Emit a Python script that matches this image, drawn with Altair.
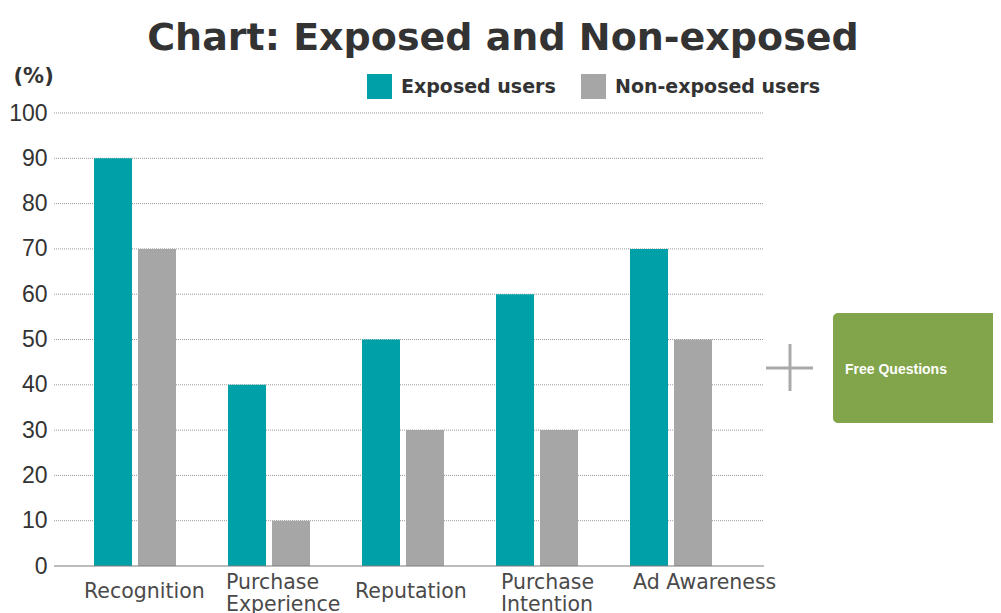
import altair as alt
import pandas as pd

categories = ["Recognition", "Purchase Experience", "Reputation", "Purchase Intention", "Ad Awareness"]
label_lines = [["Recognition"], ["Purchase", "Experience"], ["Reputation"],
               ["Purchase", "Intention"], ["Ad Awareness"]]
exposed = [90, 40, 50, 60, 70]
non_exposed = [70, 10, 30, 30, 50]
series = ["Exposed users", "Non-exposed users"]
colors = ["#00A0A8", "#A6A6A6"]
y_ticks = [0, 10, 20, 30, 40, 50, 60, 70, 80, 90, 100]
grid_values = [10, 20, 30, 40, 50, 60, 70, 80, 90, 100]

# label placement (axis styling): left-edge shift from band centre and gap below the axis
label_shift = [-51, -43, -48, -36, -38]
label_gap = [31, 22, 31, 22, 22]

rows = []
for c, e, n in zip(categories, exposed, non_exposed):
    rows.append({"category": c, "series": series[0], "value": e})
    rows.append({"category": c, "series": series[1], "value": n})
df = pd.DataFrame(rows)

def js_list(lines):
    return "[" + ",".join("'" + l + "'" for l in lines) + "]"

label_expr = ""
for c, lines in zip(categories, label_lines):
    label_expr += f"datum.label == '{c}' ? {js_list(lines)} : "
label_expr += "datum.label"

def per_label(vals):
    return {"condition": [{"test": f"datum.value == '{c}'", "value": v}
                          for c, v in zip(categories[1:], vals[1:])],
            "value": vals[0]}

FONT = "DejaVu Sans"
W, H = 710, 453
yscale = alt.Scale(domain=[0, 100], nice=False)

grid = alt.Chart(pd.DataFrame({"g": grid_values})).mark_rule(
    color="#999999", strokeWidth=1, strokeDash=[1, 1]).encode(
    y=alt.Y("g:Q", scale=yscale), x=alt.value(0), x2=alt.value(W))

bars = alt.Chart(df).mark_bar().encode(
    x=alt.X("category:N", sort=categories,
            scale=alt.Scale(range=[40, 658], paddingInner=0.388, paddingOuter=0),
            axis=alt.Axis(title=None, labelAngle=0, ticks=False, tickSize=0, domain=False,
                          labelExpr=label_expr, labelFont=FONT, labelFontSize=20.5,
                          labelColor="#4a4a4a", labelBaseline="alphabetic",
                          labelPadding=per_label(label_gap),
                          labelAlign="left", labelOffset=per_label(label_shift),
                          labelLineHeight=22, grid=False, labelLimit=300, labelOverlap=False)),
    xOffset=alt.XOffset("series:N", sort=series,
                        scale=alt.Scale(paddingInner=0.136, paddingOuter=0)),
    y=alt.Y("value:Q", scale=yscale,
            axis=alt.Axis(values=y_ticks, title="(%)", titleAngle=0, titleX=-41, titleY=-37,
                          titleAlign="left", titleBaseline="middle", titleFont=FONT,
                          titleFontSize=21, titleFontWeight="bold", titleColor="#333333",
                          labelFont="Liberation Sans", labelFontSize=23, labelColor="#333333",
                          labelPadding=7, ticks=False, tickSize=0, domain=False, grid=False)),
    color=alt.Color("series:N", sort=series,
                    scale=alt.Scale(domain=series, range=colors),
                    legend=alt.Legend(title=None, orient="none", legendX=313, legendY=-39,
                                      direction="horizontal", symbolType="square",
                                      symbolSize=625, symbolStrokeWidth=0, symbolOpacity=1,
                                      labelFont=FONT, labelFontSize=19, labelFontWeight="bold",
                                      labelColor="#333333", labelOffset=9, columnPadding=25,
                                      labelLimit=400, padding=0, offset=0)),
)

one = alt.Data(values=[{"v": 0}])

baseline = alt.Chart(one).mark_rule(color="#7a7a7a", strokeWidth=1).encode(
    x=alt.value(0), x2=alt.value(W), y=alt.value(H))

plus_h = alt.Chart(one).mark_rule(color="#aaaaaa", strokeWidth=3).encode(
    x=alt.value(712), x2=alt.value(759), y=alt.value(255))
plus_v = alt.Chart(one).mark_rule(color="#aaaaaa", strokeWidth=3).encode(
    x=alt.value(736), y=alt.value(231), y2=alt.value(278))

box = alt.Chart(one).mark_rect(color="#82A54B", cornerRadius=5).encode(
    x=alt.value(779), x2=alt.value(990), y=alt.value(200), y2=alt.value(310))
box_text = alt.Chart(alt.Data(values=[{"t": "Free Questions"}])).mark_text(
    color="white", font="Liberation Sans", fontSize=14, fontWeight="bold",
    align="left", baseline="middle").encode(
    x=alt.value(791), y=alt.value(257), text="t:N")

chart = alt.layer(grid, bars, baseline, plus_h, plus_v, box, box_text).properties(
    width=W, height=H,
    title=alt.Title("Chart: Exposed and Non-exposed", font=FONT, fontSize=38,
                    fontWeight="bold", color="#333333", anchor="middle", dx=94, offset=7),
    autosize=alt.AutoSizeParams(type="none"),
    padding={"left": 46, "top": 105, "right": 229, "bottom": 47},
).configure(background="white").configure_view(stroke=None)

chart.save("out.html", embed_options={"renderer": "svg", "actions": False})
